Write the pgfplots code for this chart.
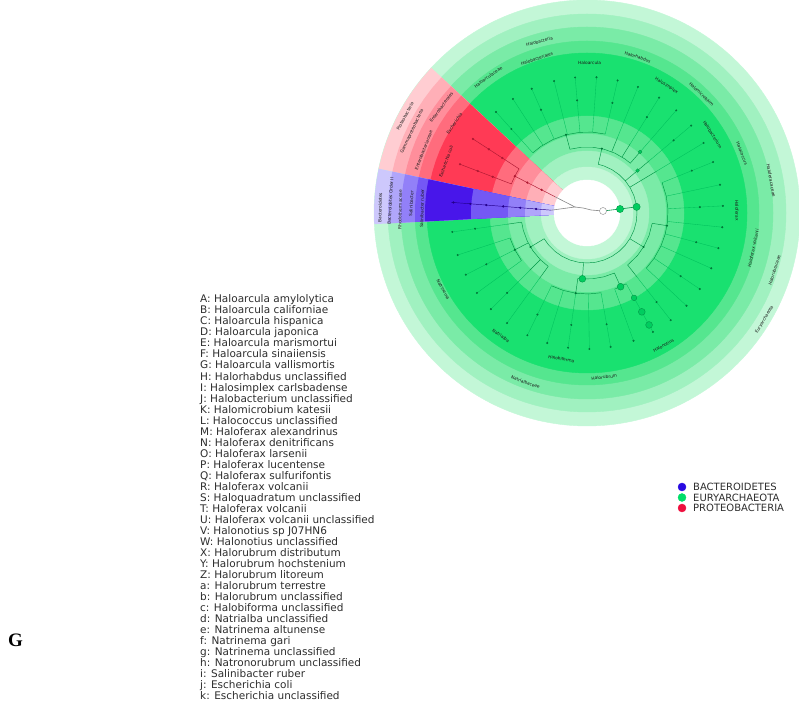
\documentclass[border=0pt]{standalone}
\usepackage{fontspec}
\usepackage{pgfplots}
\pgfplotsset{compat=1.18}
\newfontfamily\dejavu{DejaVu Sans}
\newfontfamily\seriffont{Liberation Serif}

% clade shading levels
\definecolor{G1}{RGB}{195,247,215}
\definecolor{G2}{RGB}{160,241,192}
\definecolor{G3}{RGB}{122,235,167}
\definecolor{G4}{RGB}{85,230,143}
\definecolor{G5}{RGB}{25,225,112}
\definecolor{R1}{RGB}{255,205,210}
\definecolor{R2}{RGB}{255,175,183}
\definecolor{R3}{RGB}{255,142,155}
\definecolor{R4}{RGB}{255,108,125}
\definecolor{R5}{RGB}{255,58,85}
\definecolor{B1}{RGB}{205,200,252}
\definecolor{B2}{RGB}{176,166,250}
\definecolor{B3}{RGB}{146,128,248}
\definecolor{B4}{RGB}{116,88,245}
\definecolor{B5}{RGB}{72,22,234}
\definecolor{treegreen}{RGB}{0,150,70}
\definecolor{leafgreen}{RGB}{0,192,92}
\definecolor{treered}{RGB}{175,25,50}
\definecolor{treeblue}{RGB}{35,0,140}
\definecolor{nodefill}{RGB}{0,205,95}
\definecolor{nodedraw}{RGB}{0,150,70}
\definecolor{rootgrey}{RGB}{135,135,135}
\definecolor{legblue}{RGB}{40,10,225}
\definecolor{leggreen}{RGB}{0,222,105}
\definecolor{legred}{RGB}{238,15,62}
\definecolor{legtext}{RGB}{45,45,45}

\pgfplotsset{
  gb/.style={data cs=polar, treegreen, line width=0.45pt},
  lb/.style={data cs=polar, leafgreen, line width=0.35pt},
  rb/.style={data cs=polar, treered, line width=0.45pt},
  bb/.style={data cs=polar, treeblue, line width=0.45pt},
  disk/.style={only marks, mark=*, mark size=#1},
}

% full disk of a shading level, centred on the root
\newcommand\disk[2]{\addplot[disk=#1, color=#2] coordinates {(0,0)};}
% pie slices of the two small phyla
\newcommand\redslice[2]{\addplot[draw=none, fill=#2, data cs=polar] coordinates {(137,0) (137,#1) (141,#1) (145,#1) (149,#1) (153,#1) (157,#1) (161,#1) (165,#1) (168,#1)};}
\newcommand\blueslice[2]{\addplot[draw=none, fill=#2, data cs=polar] coordinates {(168,0) (168,#1) (171,#1) (174,#1) (177,#1) (180,#1) (183,#1)};}
% radial branches: angle, inner radius, outer radius
\newcommand\rad[3]{\addplot[gb] coordinates {(#1,#2) (#1,#3)};}
\newcommand\leaf[3]{\addplot[lb] coordinates {(#1,#2) (#1,#3)};}
% clade labels, tangential
\newcommand\clabT[3]{\path (axis cs:0,0) ++(#1:#2pt) node[cl, rotate={#1-90}] {#3};}
\newcommand\clabB[3]{\path (axis cs:0,0) ++(#1:#2pt) node[cl, rotate={#1+90}] {#3};}
% key lines
\newcommand\leg[2]{\node[anchor=base west, inner sep=0pt, text=legtext, font={\dejavu\fontsize{10.5}{11}\selectfont}] at (axis cs:-387,#1) {#2};}

\tikzset{cl/.style={inner sep=0pt, text=black!90, font={\dejavu\fontsize{4.3}{4.5}\selectfont}}}

\begin{document}
\begin{tikzpicture}
\begin{axis}[name=ax, x=1pt, y=1pt, xmin=-587, xmax=212, ymin=-493, ymax=213,
  hide axis, clip=true, clip marker paths=true]

% ---- Euryarchaeota shading rings
\disk{213}{G1}
\disk{199}{G2}
\disk{186}{G3}
\disk{172}{G4}
\disk{160}{G5}
\disk{97}{G4}
\disk{79}{G3}
\disk{62}{G2}
\disk{46}{G1}

% ---- Proteobacteria
\redslice{213}{R1}
\redslice{199}{R2}
\redslice{186}{R3}
\redslice{172}{R4}
\redslice{160}{R5}
\redslice{97}{R4}
\redslice{79}{R3}
\redslice{62}{R2}
\redslice{46}{R1}

% ---- Bacteroidetes
\blueslice{213}{B1}
\blueslice{199}{B2}
\blueslice{186}{B3}
\blueslice{172}{B4}
\blueslice{162}{B5}
\blueslice{116}{B4}
\blueslice{97}{B4}
\blueslice{79}{B3}
\blueslice{62}{B2}
\blueslice{46}{B1}

\disk{33}{white}

% ---- root
\addplot[rootgrey, line width=0.6pt] coordinates {(-32.1,16.3) (-12,6) (-35.9,2.8)};
\addplot[rootgrey, line width=0.6pt] coordinates {(-12,6) (-4,5) (4,3) (16,2)};
\addplot[treegreen, line width=0.6pt] coordinates {(16,2) (33,4) (49.6,6.1)};

% ---- Halobacteriales
\addplot[gb] coordinates {(77,50) (70,50) (60,50) (50,50) (40,50) (30,50) (20,50) (10,50) (0,50) (-10,50) (-20,50) (-30,50) (-40,50) (-50,50) (-60,50) (-70,50) (-80,50) (-90,50) (-100,50) (-110,50) (-120,50) (-130,50) (-140,50) (-149,50)};
\rad{77}{50}{66} \rad{40}{50}{81} \rad{31}{50}{81}
\rad{-31}{50}{66} \rad{-94}{50}{66} \rad{-149}{50}{66}
% families
\addplot[gb] coordinates {(105,66) (95,66) (85,66) (75,66) (65,66) (55,66) (49,66)};
\addplot[gb] coordinates {(-9,66) (-20,66) (-30,66) (-40,66) (-52,66)};
\addplot[gb] coordinates {(-65.5,66) (-75,66) (-85,66) (-94,66) (-98,66)};
\addplot[gb] coordinates {(-126,66) (-135,66) (-145,66) (-155,66) (-165,66) (-172,66)};
\rad{105}{66}{81} \rad{68}{66}{81} \rad{58}{66}{81} \rad{49}{66}{81}
\rad{-9}{66}{81} \rad{-52}{66}{81}
\rad{-65.5}{66}{81} \rad{-98}{66}{81}
\rad{-126}{66}{81} \rad{-135}{66}{81} \rad{-153}{66}{81} \rad{-172}{66}{81}
% genera
\addplot[gb] coordinates {(132,81) (125,81) (115,81) (105,81) (95,81) (86,81) (77,81)};
\addplot[gb] coordinates {(22,81) (12,81) (3,81) (-6,81) (-15,81) (-24,81) (-34,81) (-43,81)};
\addplot[gb] coordinates {(-61,81) (-70,81)};
\addplot[gb] coordinates {(-80,81) (-89,81) (-98,81) (-107,81) (-116,81)};
\addplot[gb] coordinates {(-144,81) (-153,81) (-162,81)};
% species
\leaf{132}{81}{136} \leaf{123}{81}{136} \leaf{114}{81}{136} \leaf{104}{81}{136}
\leaf{95}{81}{136} \leaf{86}{81}{136} \leaf{77}{81}{136} \leaf{68}{81}{136}
\leaf{58}{81}{136} \leaf{49}{81}{136} \leaf{40}{81}{136} \leaf{31}{81}{136}
\leaf{22}{81}{136} \leaf{12}{81}{136} \leaf{3}{81}{136} \leaf{-6}{81}{136}
\leaf{-15}{81}{136} \leaf{-24}{81}{136} \leaf{-34}{81}{136} \leaf{-43}{81}{136}
\leaf{-52}{81}{136} \leaf{-61}{81}{136} \leaf{-70}{81}{136}
\leaf{-80}{81}{136} \leaf{-89}{81}{136} \leaf{-98}{81}{136} \leaf{-107}{81}{136} \leaf{-116}{81}{136}
\leaf{-126}{81}{136} \leaf{-135}{81}{136}
\leaf{-144}{81}{136} \leaf{-153}{81}{136} \leaf{-162}{81}{136} \leaf{-172}{81}{136}

% ---- Proteobacteria and Bacteroidetes lineages
\addplot[rb] coordinates {(153,36) (153,81)};
\addplot[rb] coordinates {(147,81) (150,81) (153,81) (156,81) (159,81)};
\addplot[rb] coordinates {(147,81) (147,136)};
\addplot[rb] coordinates {(159,81) (159,136)};
\addplot[bb] coordinates {(175.5,36) (175.5,136)};

% ---- node dots
\addplot[only marks, mark=*, mark size=0.8, color=treegreen!80!black, data cs=polar] coordinates {
 (132,136) (123,136) (114,136) (104,136) (95,136) (86,136) (77,136) (68,136) (58,136) (49,136)
 (40,136) (31,136) (22,136) (12,136) (3,136) (-6,136) (-15,136) (-24,136) (-34,136) (-43,136)
 (-52,136) (-61,136) (-70,136) (-80,136) (-89,136) (-98,136) (-107,136) (-116,136) (-126,136)
 (-135,136) (-144,136) (-153,136) (-162,136) (-172,136)
 (132,113) (114,113) (95,113) (77,113) (58,113) (40,113) (22,113) (3,113) (-15,113) (-34,113)
 (-52,113) (-80,113) (-98,113) (-116,113) (-135,113) (-153,113) (-172,113)
 (105,81) (-9,81) (-98,81) (-153,81) (77,66) (-31,66) (-149,66)};
\addplot[only marks, mark=*, mark size=0.9, color=treered, data cs=polar] coordinates {
 (153,51) (153,67) (153,81) (147,101) (159,101) (147,117) (159,117) (147,136) (159,136)};
\addplot[only marks, mark=*, mark size=0.9, color=treeblue, data cs=polar] coordinates {
 (175.5,51) (175.5,67) (175.5,84) (175.5,101) (175.5,117) (175.5,134)};

% larger nodes
\addplot[only marks, mark=*, mark size=3.5, mark options={fill=white, draw=rootgrey}] coordinates {(16,2)};
\addplot[only marks, mark=*, mark size=3.6, mark options={fill=nodefill, draw=nodedraw}] coordinates {(33,4) (49.6,6.1)};
\addplot[only marks, mark=*, mark size=3.4, mark options={fill=nodefill, draw=nodedraw}, data cs=polar] coordinates {(-94,66) (-65.5,81) (-61,128) (-61,113)};
\addplot[only marks, mark=*, mark size=2.8, mark options={fill=nodefill, draw=nodedraw}, data cs=polar] coordinates {(-61,97)};
\addplot[only marks, mark=*, mark size=1.8, mark options={fill=nodefill, draw=nodedraw}, data cs=polar] coordinates {(40,66) (49,81)};

% ---- clade labels
\clabT{105.5}{178}{Halobacteria}
\clabT{108}{162}{Halobacteriales}
\clabT{126}{168}{Haloarculaceae}
\clabT{89}{150}{Haloarcula}
\clabT{72}{164}{Halorhabdus}
\clabT{58}{150}{Halosimplex}
\clabT{46}{165}{Halomicrobium}
\clabT{32}{148}{Halobacterium}
\clabT{21}{166}{Halococcus}
\clabT{10}{187}{Haloferacaceae}
\clabT{1}{150}{Haloferax}
\clabB{-12}{170}{Haloferax volcanii}
\clabB{-17}{196}{Halorubraceae}
\clabB{-31}{207}{Euryarchaeota}
\clabB{-60}{153}{Halonotius}
\clabB{-84}{165}{Halorubrum}
\clabB{-100}{148}{Halobiforma}
\clabB{-110}{180}{Natrialbaceae}
\clabB{-125}{150}{Natrialba}
\clabB{-152}{163}{Natrinema}
\clabT{152}{206}{Proteobacteria}
\clabT{155}{193}{Gammaproteobacteria}
\clabT{144}{180}{Enterobacterales}
\clabT{159}{175}{Enterobacteriaceae}
\clabT{146}{160}{Escherichia}
\clabT{160}{150}{Escherichia coli}
\clabT{178.5}{207}{Bacteroidetes}
\clabT{176.5}{197}{Bacteroidetes Order II}
\clabT{179}{187}{Rhodothermaceae}
\clabT{177}{176}{Salinibacter}
\clabT{178.5}{165}{Salinibacter ruber}

% ---- phylum key
\addplot[only marks, mark=*, mark size=4, color=legblue] coordinates {(95,-274)};
\addplot[only marks, mark=*, mark size=4, color=leggreen] coordinates {(95,-284.5)};
\addplot[only marks, mark=*, mark size=4, color=legred] coordinates {(95,-295)};
\node[anchor=base west, inner sep=0pt, text=legtext, font={\dejavu\fontsize{10}{10}\selectfont}] at (axis cs:106,-277.6) {BACTEROIDETES};
\node[anchor=base west, inner sep=0pt, text=legtext, font={\dejavu\fontsize{10}{10}\selectfont}] at (axis cs:106,-288.1) {EURYARCHAEOTA};
\node[anchor=base west, inner sep=0pt, text=legtext, font={\dejavu\fontsize{10}{10}\selectfont}] at (axis cs:106,-298.6) {PROTEOBACTERIA};

% ---- species key
\leg{-89.80}{A: Haloarcula amylolytica}
\leg{-100.83}{B: Haloarcula californiae}
\leg{-111.86}{C: Haloarcula hispanica}
\leg{-122.89}{D: Haloarcula japonica}
\leg{-133.92}{E: Haloarcula marismortui}
\leg{-144.95}{F: Haloarcula sinaiiensis}
\leg{-155.98}{G: Haloarcula vallismortis}
\leg{-167.01}{H: Halorhabdus unclassified}
\leg{-178.04}{I: Halosimplex carlsbadense}
\leg{-189.07}{J: Halobacterium unclassified}
\leg{-200.10}{K: Halomicrobium katesii}
\leg{-211.13}{L: Halococcus unclassified}
\leg{-222.16}{M: Haloferax alexandrinus}
\leg{-233.19}{N: Haloferax denitrificans}
\leg{-244.22}{O: Haloferax larsenii}
\leg{-255.25}{P: Haloferax lucentense}
\leg{-266.28}{Q: Haloferax sulfurifontis}
\leg{-277.31}{R: Haloferax volcanii}
\leg{-288.34}{S: Haloquadratum unclassified}
\leg{-299.37}{T: Haloferax volcanii}
\leg{-310.40}{U: Haloferax volcanii unclassified}
\leg{-321.43}{V: Halonotius sp J07HN6}
\leg{-332.46}{W: Halonotius unclassified}
\leg{-343.49}{X: Halorubrum distributum}
\leg{-354.52}{Y: Halorubrum hochstenium}
\leg{-365.55}{Z: Halorubrum litoreum}
\leg{-376.58}{a: Halorubrum terrestre}
\leg{-387.61}{b: Halorubrum unclassified}
\leg{-398.64}{c: Halobiforma unclassified}
\leg{-409.67}{d: Natrialba unclassified}
\leg{-420.70}{e: Natrinema altunense}
\leg{-431.73}{f: Natrinema gari}
\leg{-442.76}{g: Natrinema unclassified}
\leg{-453.79}{h: Natronorubrum unclassified}
\leg{-464.82}{i: Salinibacter ruber}
\leg{-475.85}{j: Escherichia coli}
\leg{-486.88}{k: Escherichia unclassified}

% ---- panel letter
\node[anchor=base west, inner sep=0pt, font={\seriffont\bfseries\fontsize{19}{19}\selectfont}] at (axis cs:-579,-433) {G};

\end{axis}
\pgfresetboundingbox
\path (ax.south west) rectangle (ax.north east);
\end{tikzpicture}
\end{document}
